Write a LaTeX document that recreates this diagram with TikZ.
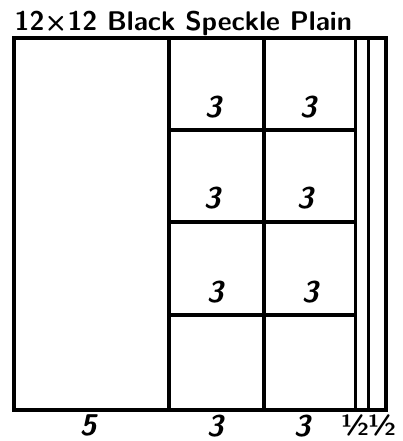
\documentclass[tikz,border=0pt]{standalone}
\usepackage{fontspec}
\usepackage{tikz}

\begin{document}
\begin{tikzpicture}[x=1pt, y=-1pt, line width=3.4pt,
        lbl/.style={font=\fontsize{30}{32}\selectfont\sffamily\bfseries\itshape, inner sep=0pt},
        half/.style={font=\fontsize{29}{31}\selectfont\sffamily\bfseries, inner sep=0pt}]
        \useasboundingbox (0,0) rectangle (402,441);
        % Coordinates
        \coordinate (A) at (14, 38);
        \coordinate (B) at (386, 38);
        \coordinate (C) at (386, 410);
        \coordinate (D) at (14, 410);
        \coordinate (E) at (169, 38);
        \coordinate (F) at (169, 410);
        \coordinate (G) at (264, 38);
        \coordinate (H) at (264, 410);
        \coordinate (I) at (355, 38);
        \coordinate (J) at (355, 410);
        \coordinate (K) at (368, 38);
        \coordinate (L) at (368, 410);
        \coordinate (M) at (169, 130);
        \coordinate (N) at (355, 130);
        \coordinate (O) at (169, 222);
        \coordinate (P) at (355, 222);
        \coordinate (Q) at (169, 315);
        \coordinate (R) at (355, 315);

        % Drawing
        \draw (A) -- (B) -- (C) -- (D) -- cycle;
        \draw (E) -- (F);
        \draw (G) -- (H);
        \draw[line width=3pt] (I) -- (J);
        \draw[line width=3pt] (K) -- (L);
        \draw (M) -- (N);
        \draw (O) -- (P);
        \draw (Q) -- (R);
        \node[font=\fontsize{27}{30}\selectfont\sffamily\bfseries, inner sep=0pt, anchor=base west] (title) at (13, 31) {12×12 Black Speckle Plain};
        \node[lbl] (ra) at (213, 107) {3};
        \node[lbl] (rb) at (308, 107) {3};
        \node[lbl] (rc) at (212, 198) {3};
        \node[lbl] (rd) at (305, 198) {3};
        \node[lbl] (re) at (215, 292) {3};
        \node[lbl] (rf) at (310, 292) {3};
        \node[lbl] (wa) at (88, 425) {5};
        \node[lbl] (wb) at (215, 426) {3};
        \node[lbl] (wc) at (302, 426) {3};
        \node[half] (wd) at (355, 425) {½};
        \node[half] (we) at (382, 425) {½};
    \end{tikzpicture}
\end{document}
